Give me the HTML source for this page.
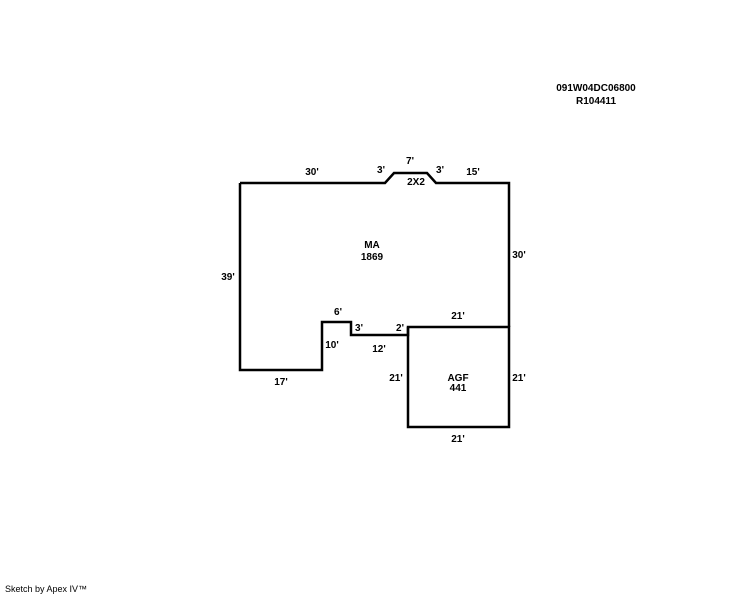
<!DOCTYPE html>
<html><head><style>
body{margin:0;background:#fff;}
svg text{font-family:"Liberation Sans",Arial,sans-serif;font-size:10px;font-weight:bold;fill:#000;}
</style></head><body>
<svg width="744" height="595" xmlns="http://www.w3.org/2000/svg">
<g fill="none" stroke="#000" stroke-width="2.5">
<polyline points="240,183 385,183 394,173 427,173 436,183 509,183 509,327"/>
<polyline points="240,183 240,370 322,370 322,322 351,322 351,335 408,335 408,327"/>
<rect x="408" y="327" width="101" height="100"/>
</g>
<text x="596" y="91" text-anchor="middle">091W04DC06800</text>
<text x="596" y="104" text-anchor="middle">R104411</text>
<text x="312" y="175" text-anchor="middle">30'</text>
<text x="381" y="173" text-anchor="middle">3'</text>
<text x="410" y="164" text-anchor="middle">7'</text>
<text x="440" y="173" text-anchor="middle">3'</text>
<text x="473" y="175" text-anchor="middle">15'</text>
<text x="416" y="185" text-anchor="middle">2X2</text>
<text x="372" y="248" text-anchor="middle">MA</text>
<text x="372" y="260" text-anchor="middle">1869</text>
<text x="519" y="258" text-anchor="middle">30'</text>
<text x="228" y="280" text-anchor="middle">39'</text>
<text x="338" y="315" text-anchor="middle">6'</text>
<text x="359" y="331" text-anchor="middle">3'</text>
<text x="400" y="331" text-anchor="middle">2'</text>
<text x="458" y="319" text-anchor="middle">21'</text>
<text x="332" y="348" text-anchor="middle">10'</text>
<text x="379" y="352" text-anchor="middle">12'</text>
<text x="281" y="385" text-anchor="middle">17'</text>
<text x="396" y="381" text-anchor="middle">21'</text>
<text x="458" y="381" text-anchor="middle">AGF</text>
<text x="458" y="391" text-anchor="middle">441</text>
<text x="519" y="381" text-anchor="middle">21'</text>
<text x="458" y="442" text-anchor="middle">21'</text>
<text x="5" y="592" style="font-weight:normal;font-size:9px">Sketch by Apex IV™</text>
</svg>
</body></html>
